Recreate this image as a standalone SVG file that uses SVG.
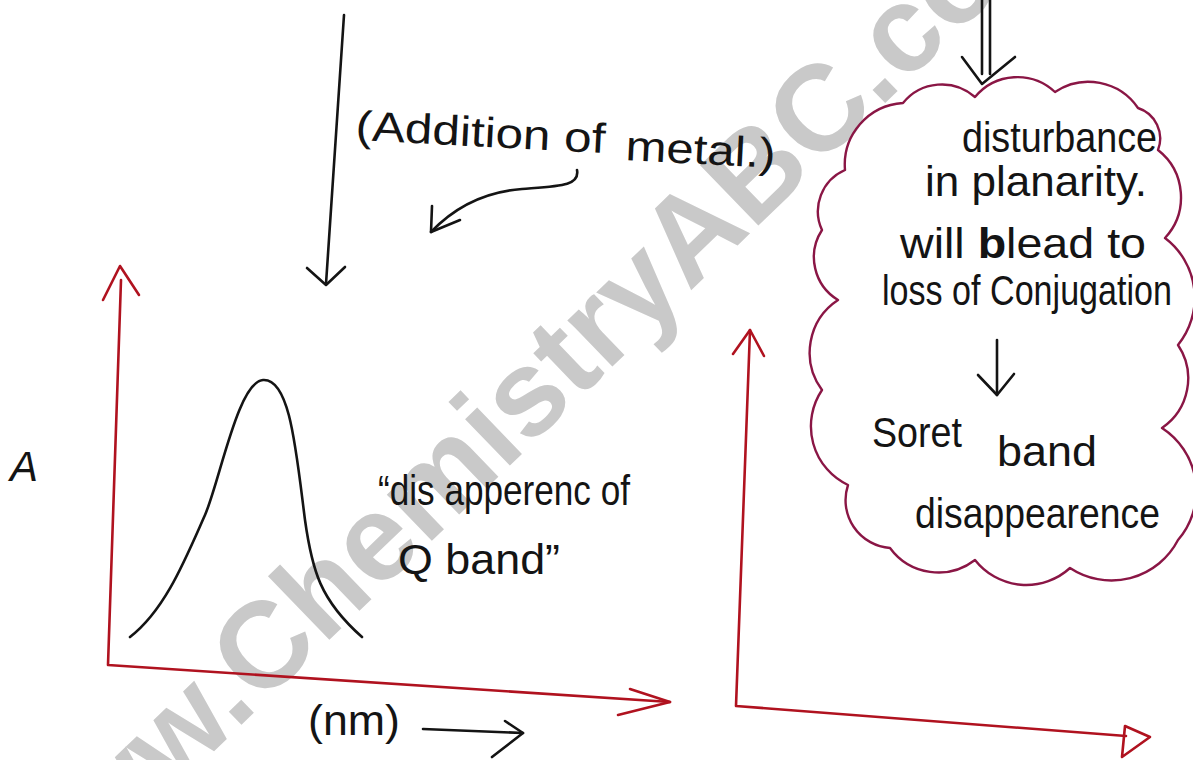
<svg xmlns="http://www.w3.org/2000/svg" width="1193" height="760" viewBox="0 0 1193 760">
<style>
.ink{fill:none;stroke:#141414;stroke-width:2.6;stroke-linecap:round;stroke-linejoin:round}
.red{fill:none;stroke:#b0121f;stroke-width:2.6;stroke-linecap:round;stroke-linejoin:round}
.cloud{fill:none;stroke:#8a1645;stroke-width:2.4;stroke-linejoin:round}
.t{font-family:"Liberation Sans",Arial,sans-serif;fill:#141414;font-size:42px}
.wm{font-family:"Liberation Sans",Arial,sans-serif;font-weight:bold;fill:#c9c9c9;font-size:122px}
</style>
<rect width="1193" height="760" fill="#ffffff"/>
<text class="wm" transform="translate(34,925) rotate(-44)">www.ChemistryABC.com</text>

<g id="label-addition">
<text class="t" x="355" y="140" font-size="46" textLength="250" lengthAdjust="spacingAndGlyphs" transform="rotate(3 355 140)">(Addition of</text>
<text class="t" x="625" y="160" font-size="46" textLength="150" lengthAdjust="spacingAndGlyphs" transform="rotate(3 625 160)">metal.)</text>
</g>

<g id="left-graph">
<path class="red" d="M121,280 L108,665 L670,702"/>
<path class="red" d="M103,300 L120,266 L139,295"/>
<path class="red" d="M630,689 L670,702 L618,715"/>
<path class="ink" d="M130,637 C165,610 185,560 205,515 C220,480 238,382 263,380 C290,378 296,450 305,520 C312,570 320,600 362,637"/>
<text class="t" x="10" y="481" font-size="52" font-style="italic">A</text>
<text class="t" x="378" y="505" textLength="252" lengthAdjust="spacingAndGlyphs">“dis apperenc of</text>
<text class="t" x="398" y="574" textLength="162" lengthAdjust="spacingAndGlyphs">Q band”</text>
<text class="t" x="308" y="735" textLength="92" lengthAdjust="spacingAndGlyphs">(nm)</text>
</g>

<g id="right-graph">
<path class="red" d="M750,330 L736,706 L1126,736"/>
<path class="red" d="M733,354 L750,330 L764,356"/>
<path class="red" d="M1125,726 L1150,737 L1122,757 Z" stroke-width="3"/>
</g>

<g id="cloud">
<path class="cloud" d="M903,103 A50,50 0 0 1 975,97 A55,55 0 0 1 1055,92 A60,60 0 0 1 1138,108 A32,32 0 0 1 1158,150 A60,60 0 0 1 1165,238 A75,75 0 0 1 1178,345 A60,60 0 0 1 1162,428 A75,75 0 0 1 1178,540 A75,75 0 0 1 1070,568 A65,65 0 0 1 975,560 A60,60 0 0 1 890,548 A48,48 0 0 1 848,485 A65,65 0 0 1 822,390 A63,63 0 0 1 838,300 A50,50 0 0 1 822,230 A45,45 0 0 1 845,170 A62,62 0 0 1 903,103 Z"/>
<text class="t" x="962" y="152" font-size="44" textLength="195" lengthAdjust="spacingAndGlyphs">disturbance</text>
<text class="t" x="925" y="196" textLength="222" lengthAdjust="spacingAndGlyphs">in planarity.</text>
<text class="t" x="900" y="258" textLength="246" lengthAdjust="spacingAndGlyphs">will <tspan font-weight="bold">b</tspan>lead to</text>
<text class="t" x="882" y="305" font-size="43" textLength="290" lengthAdjust="spacingAndGlyphs">loss of Conjugation</text>
<text class="t" x="872" y="447" font-size="46" textLength="90" lengthAdjust="spacingAndGlyphs">Soret</text>
<text class="t" x="997" y="466" font-size="46" textLength="100" lengthAdjust="spacingAndGlyphs">band</text>
<text class="t" x="915" y="528" font-size="44" textLength="245" lengthAdjust="spacingAndGlyphs">disappearence</text>
</g>

<g id="connectors">
<path class="ink" d="M344,15 L326,284"/>
<path class="ink" d="M307,268 L326,285 L345,267"/>
<path class="ink" d="M577,170 C580,186 560,186 522,189 C482,192 452,210 431,232"/>
<path class="ink" d="M432,206 L431,232 L460,220"/>
<path class="ink" d="M982,0 L982,74 M990,0 L990,74"/>
<path class="ink" d="M962,57 L982,84 L1015,57"/>
<path class="ink" d="M997,340 L997,395"/>
<path class="ink" d="M978,375 L997,395 L1014,374"/>
<path class="ink" d="M423,729 L523,733"/>
<path class="ink" d="M505,721 L523,733 L492,757"/>
</g>
</svg>
